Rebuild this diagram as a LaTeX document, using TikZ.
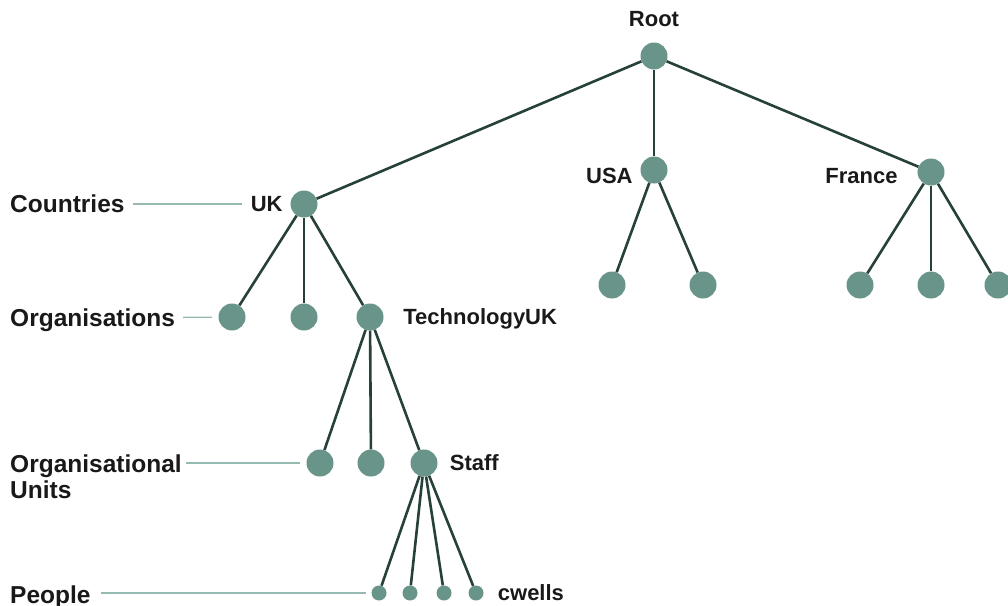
\documentclass[tikz,border=0pt]{standalone}
\usepackage{fontspec}
\setmainfont{Liberation Sans}
\definecolor{NodeColor}{RGB}{104,148,138}
\definecolor{EdgeColor}{RGB}{38,64,58}
\definecolor{LeaderColor}{RGB}{150,186,178}
\definecolor{TextColor}{RGB}{25,25,25}
\usetikzlibrary{positioning}
\tikzset{
    entry/.style={
        circle,
        fill=NodeColor,
        minimum size=27pt,
        inner sep=0pt
    },
    person/.style={entry, minimum size=15pt},
    lbl/.style={
        font=\bfseries\fontsize{22}{26}\selectfont,
        text=TextColor,
        inner sep=3pt,
        text height=15.8pt,
        text depth=0pt
    },
    level/.style={lbl, font=\bfseries\fontsize{24.5}{28}\selectfont, text height=17.6pt, anchor=west},
    branch/.style={line width=2.6pt, draw=EdgeColor},
    leader/.style={line width=1.3pt, draw=LeaderColor}
}

\begin{document}
\begin{tikzpicture}[x=1pt, y=-1pt]
        \useasboundingbox (0,0) rectangle (1008,605);

        % top of the tree
        \node[entry] (root) at (654,56) {};
        \node[entry] (uk) at (304,204) {};
        \node[entry] (usa) at (654,170) {};
        \node[entry] (france) at (931,172) {};

        \node[lbl, above=12.5pt of root] (rootlbl) {Root};
        \node[lbl, left=4.5pt of uk] (uklbl) {UK};
        \node[lbl, left=4.5pt of usa, yshift=-6pt] (usalbl) {USA};
        \node[lbl, left=16.5pt of france, yshift=-4pt] (francelbl) {France};

        % organisations
        \node[entry] (orgA) at (232,317) {};
        \node[entry] (orgB) at (304,317) {};
        \node[entry] (techuk) at (370,317) {};
        \node[entry] (usaA) at (612,285) {};
        \node[entry] (usaB) at (703,285) {};
        \node[entry] (frA) at (860,285) {};
        \node[entry] (frB) at (931,285) {};
        \node[entry] (frC) at (998,285) {};
        \node[lbl, right=16.5pt of techuk] (techuklbl) {TechnologyUK};

        % organisational units
        \node[entry] (unitA) at (320,463) {};
        \node[entry] (unitB) at (371,463) {};
        \node[entry] (staff) at (424,463) {};
        \node[lbl, right=9pt of staff] (stafflbl) {Staff};

        % people
        \node[person] (manA) at (379,593) {};
        \node[person] (manB) at (410,593) {};
        \node[person] (manC) at (444,593) {};
        \node[person] (cwells) at (476,593) {};
        \node[lbl, right=11pt of cwells] (cwellslbl) {cwells};

        \draw[branch] (root) -- (uk);
        \draw[branch] (root) -- (usa);
        \draw[branch] (root) -- (france);
        \draw[branch] (uk) -- (orgA);
        \draw[branch] (uk) -- (orgB);
        \draw[branch] (uk) -- (techuk);
        \draw[branch] (usa) -- (usaA);
        \draw[branch] (usa) -- (usaB);
        \draw[branch] (france) -- (frA);
        \draw[branch] (france) -- (frB);
        \draw[branch] (france) -- (frC);
        \draw[branch] (techuk) -- (unitA);
        \draw[branch] (techuk) -- (unitB);
        \draw[branch] (techuk) -- (staff);
        \draw[branch] (staff) -- (manA);
        \draw[branch] (staff) -- (manB);
        \draw[branch] (staff) -- (manC);
        \draw[branch] (staff) -- (cwells);

        % levels on the left
        \node[level] (countries) at (7,204) {Countries};
        \node[level] (orgs) at (7,318) {Organisations};
        \node[level] (orgunits) at (7,463.5) {Organisational};
        \node[level] (units) at (7,490) {Units};
        \node[level] (people) at (7,594.5) {People};

        \draw[leader, shorten <=5pt, shorten >=6pt] (countries) -- (uklbl);
        \draw[leader, shorten <=5pt, shorten >=6.5pt] (orgs) -- (orgA);
        \draw[leader, shorten <=1pt, shorten >=6.5pt] (orgunits.east |- unitA) -- (unitA);
        \draw[leader, shorten <=7pt, shorten >=5pt] (people.east |- manA) -- (manA);

        \end{tikzpicture}
\end{document}
